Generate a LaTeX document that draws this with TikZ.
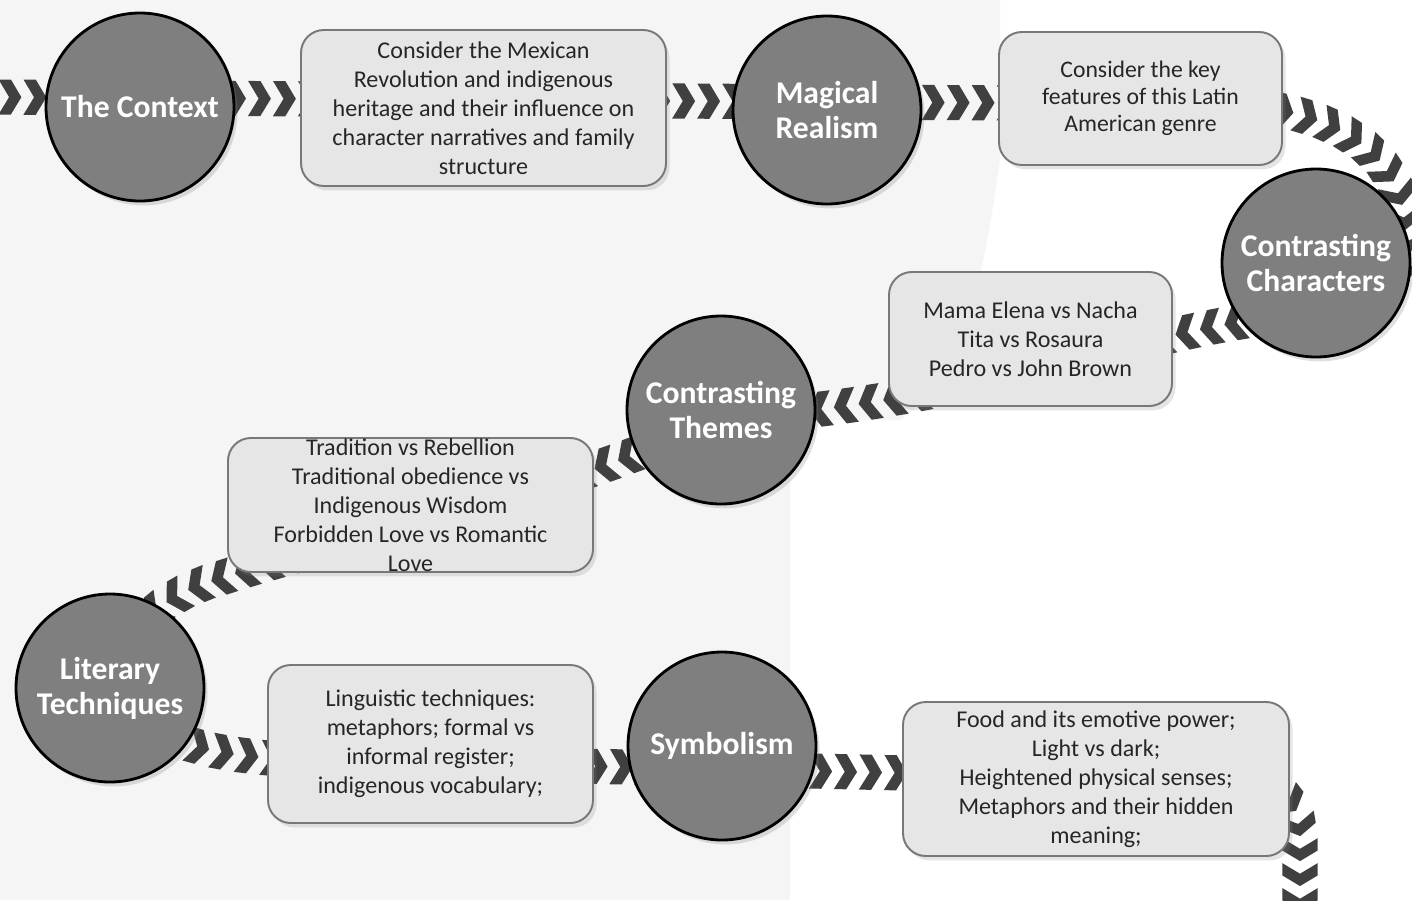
\documentclass[tikz,border=0pt]{standalone}
\usepackage{fontspec}
\setmainfont{Carlito}
\usetikzlibrary{positioning}
\usetikzlibrary{decorations.markings,shadows}

\definecolor{chevgray}{RGB}{64,64,64}
\definecolor{stagefill}{RGB}{127,127,127}
\definecolor{notefill}{RGB}{230,230,230}
\definecolor{notedraw}{RGB}{120,120,120}
\definecolor{wmgray}{RGB}{245,245,245}

\begin{document}
\begin{tikzpicture}[x=0.2mm,y=-0.2mm,
        stage/.style={circle,inner sep=0pt,minimum size=37.6mm,fill=stagefill,draw=black,line width=1.6pt,
            text=white,align=center,font=\fontsize{18}{20}\selectfont\bfseries,
            drop shadow={opacity=0.25,shadow xshift=2pt,shadow yshift=-2.5pt}},
        note/.style={rectangle,rounded corners=13pt,inner sep=0pt,fill=notefill,draw=notedraw,line width=1.1pt,
            align=center,text=black!85,font=\fontsize{13.7}{16.5}\selectfont,
            drop shadow={opacity=0.2,shadow xshift=2pt,shadow yshift=-2.5pt}},
        chevrons/.style={decoration={markings,
            mark=between positions 0 and 1 step 14.2pt with
            {\fill[chevgray] (-6.5pt,10pt) -- (0.5pt,10pt) -- (6.5pt,0pt) -- (0.5pt,-10pt) -- (-6.5pt,-10pt) -- (-0.5pt,0pt) -- cycle;}},
            postaction={decorate}}
        ]
        \useasboundingbox (0,0) rectangle (1412,900);
        % faint watermark behind everything
        \fill[white] (0,0) rectangle (1412,900);
        \fill[wmgray] (0,0) -- (1000,0) -- (1000,160) .. controls (980,300) and (960,380) .. (900,420)
            -- (790,420) -- (790,900) -- (0,900) -- cycle;
        % the chevron band
        \coordinate (chevstart) at (-15,97);
        \coordinate (chevend) at (1300,925);
        \path[chevrons] (chevstart) -- (1190,104)
            .. controls (1330,100) and (1405,150) .. (1405,235)
            .. controls (1405,300) and (1320,310) .. (1240,322)
            .. controls (1100,345) and (950,405) .. (721,418)
            .. controls (560,495) and (330,540) .. (200,585)
            .. controls (150,605) and (120,640) .. (110,688)
            .. controls (150,740) and (200,755) .. (300,760)
            -- (1230,780)
            .. controls (1290,785) and (1300,805) .. (1300,850)
            -- (chevend);
        % stages and notes
        \node[stage] (context) at (140,107) {The Context};
        \node[note,minimum width=73mm,minimum height=31.2mm] (revolution) at (483.5,108)
            {Consider the Mexican\\Revolution and indigenous\\heritage and their influence on\\character narratives and family\\structure};
        \node[stage] (magical) at (827,110) {Magical\\Realism};
        \node[note,minimum width=56.6mm,minimum height=26.6mm,font=\fontsize{13.5}{15.4}\selectfont] (genre) at (1140.5,98.5)
            {Consider the key\\features of this Latin\\American genre};
        \node[stage] (characters) at (1316,263) {Contrasting\\Characters};
        \node[note,minimum width=56.6mm,minimum height=26.8mm] (pairs) at (1030.5,339)
            {Mama Elena vs Nacha\\Tita vs Rosaura\\Pedro vs John Brown};
        \node[stage] (themes) at (721,410) {Contrasting\\Themes};
        \node[note,minimum width=73mm,minimum height=26.8mm] (opposites) at (410.5,505)
            {Tradition vs Rebellion\\Traditional obedience vs\\Indigenous Wisdom\\Forbidden Love vs Romantic\\Love};
        \node[stage] (literary) at (110,688) {Literary\\Techniques};
        \node[note,minimum width=65mm,minimum height=31.6mm] (language) at (430.5,744)
            {Linguistic techniques:\\metaphors; formal vs\\informal register;\\indigenous vocabulary;};
        \node[stage] (symbolism) at (722,746) {Symbolism};
        \node[note,minimum width=77.2mm,minimum height=30.8mm] (symbols) at (1096,779)
            {Food and its emotive power;\\Light vs dark;\\Heightened physical senses;\\Metaphors and their hidden\\meaning;};
    \end{tikzpicture}
\end{document}
